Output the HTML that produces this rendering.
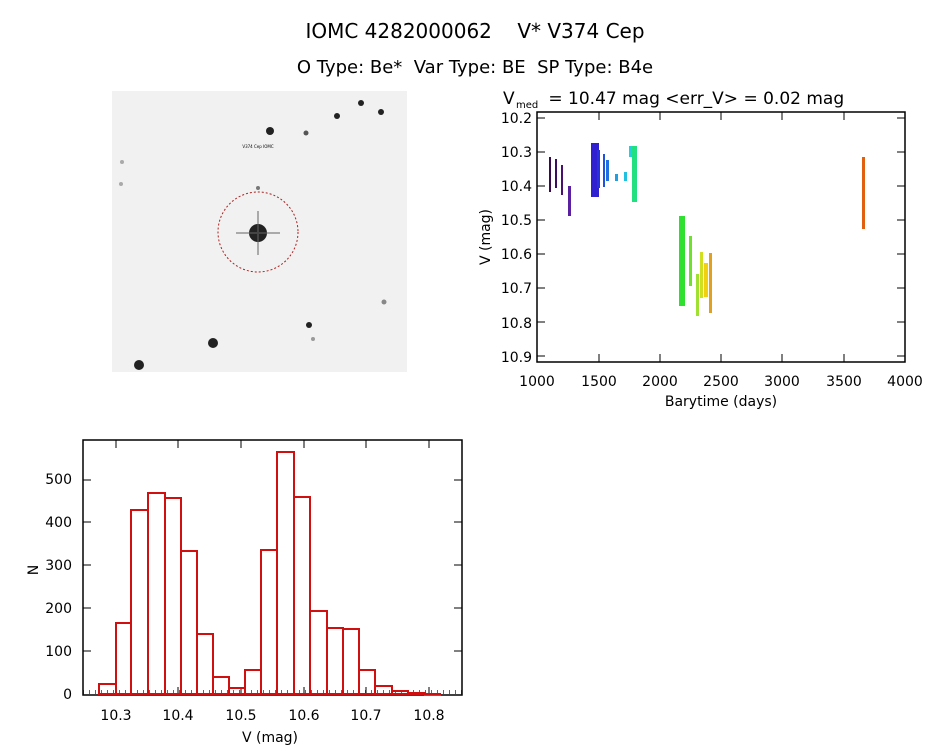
<!DOCTYPE html>
<html><head><style>
body{margin:0;background:#fff;width:944px;height:747px;overflow:hidden;font-family:"DejaVu Sans","Liberation Sans",sans-serif}
svg text{font-family:"DejaVu Sans","Liberation Sans",sans-serif;fill:#000}
</style></head><body>
<svg width="944" height="747" xmlns="http://www.w3.org/2000/svg">
<text x="475" y="38" font-size="20" text-anchor="middle" xml:space="preserve">IOMC 4282000062    V* V374 Cep</text>
<text x="475" y="73" font-size="18" text-anchor="middle" xml:space="preserve">O Type: Be*  Var Type: BE  SP Type: B4e</text>

<rect x="112" y="91" width="295" height="281" fill="#f1f1f1"/>
<g fill="#222">
<circle cx="270" cy="131" r="4"/><circle cx="337" cy="116" r="3"/><circle cx="361" cy="103" r="3"/><circle cx="381" cy="112" r="3"/><circle cx="306" cy="133" r="2.5" fill="#555"/>
<circle cx="258" cy="188" r="2" fill="#777"/><circle cx="309" cy="325" r="3"/><circle cx="213" cy="343" r="5"/><circle cx="139" cy="365" r="5"/>
<circle cx="122" cy="162" r="2" fill="#aaa"/><circle cx="121" cy="184" r="2" fill="#aaa"/><circle cx="384" cy="302" r="2.5" fill="#888"/><circle cx="313" cy="339" r="2" fill="#999"/>
<circle cx="258" cy="233" r="9"/>
</g>
<path d="M236 233H280M258 211V255" stroke="#666" stroke-width="2" opacity="0.5"/>
<circle cx="258" cy="232" r="40" fill="none" stroke="#b02020" stroke-width="1" stroke-dasharray="2,2"/>
<text x="258" y="148" font-size="4" fill="#c00" text-anchor="middle">V374 Cep IOMC</text>

<text x="503" y="104" font-size="17">V</text>
<text x="516" y="108" font-size="10">med</text>
<text x="543" y="104" font-size="17" xml:space="preserve"> = 10.47 mag &lt;err_V&gt; = 0.02 mag</text>
<rect x="537" y="112" width="368" height="250" fill="none" stroke="#000" stroke-width="1.5"/>
<g font-size="14" text-anchor="end">
<text x="532" y="123">10.2</text><text x="532" y="157">10.3</text><text x="532" y="191">10.4</text><text x="532" y="225">10.5</text><text x="532" y="259">10.6</text><text x="532" y="293">10.7</text><text x="532" y="328">10.8</text><text x="532" y="362">10.9</text>
</g>
<g stroke="#000">
<path d="M537 118h8M537 152h8M537 186h8M537 220h8M537 254h8M537 288h8M537 322h8M537 356h8M905 118h-8M905 152h-8M905 186h-8M905 220h-8M905 254h-8M905 288h-8M905 322h-8M905 356h-8"/>
<path d="M599 362v-8M660 362v-8M721 362v-8M782 362v-8M844 362v-8M599 112v8M660 112v8M721 112v8M782 112v8M844 112v8"/>
</g>
<g font-size="14" text-anchor="middle">
<text x="537" y="386">1000</text><text x="599" y="386">1500</text><text x="660" y="386">2000</text><text x="721" y="386">2500</text><text x="782" y="386">3000</text><text x="844" y="386">3500</text><text x="905" y="386">4000</text>
<text x="721" y="406">Barytime (days)</text>
</g>
<text transform="translate(490,237) rotate(-90)" font-size="14" text-anchor="middle">V (mag)</text>
<g>
<rect x="549" y="157" width="2" height="35" fill="#3a0a50"/>
<rect x="555" y="159" width="2" height="29" fill="#3e0c60"/>
<rect x="561" y="165" width="2" height="30" fill="#4a1070"/>
<rect x="568" y="186" width="3" height="30" fill="#5a20a0"/>
<rect x="591" y="143" width="8" height="54" fill="#3020d0"/>
<rect x="597" y="150" width="3" height="38" fill="#2830e0"/>
<rect x="603" y="154" width="2" height="33" fill="#2050e0"/>
<rect x="606" y="160" width="3" height="21" fill="#2070e0"/>
<rect x="615" y="174" width="3" height="7" fill="#20a0e0"/>
<rect x="624" y="172" width="3" height="9" fill="#20c0e0"/>
<rect x="629" y="146" width="3" height="11" fill="#20d0e0"/>
<rect x="632" y="146" width="5" height="56" fill="#20e080"/>
<rect x="679" y="216" width="6" height="90" fill="#30e030"/>
<rect x="689" y="236" width="3" height="50" fill="#70e030"/>
<rect x="696" y="274" width="3" height="42" fill="#a0e030"/>
<rect x="700" y="252" width="3" height="46" fill="#d0e020"/>
<rect x="704" y="263" width="4" height="34" fill="#f0d010"/>
<rect x="709" y="253" width="3" height="60" fill="#e0a020"/>
<rect x="862" y="157" width="3" height="72" fill="#e06010"/>
</g>

<rect x="83" y="440" width="379" height="255" fill="none" stroke="#000" stroke-width="1.5"/>
<g font-size="14" text-anchor="end">
<text x="72" y="699">0</text><text x="72" y="656">100</text><text x="72" y="613">200</text><text x="72" y="570">300</text><text x="72" y="527">400</text><text x="72" y="484">500</text>
</g>
<g stroke="#000">
<path d="M83 651h8M83 608h8M83 565h8M83 522h8M83 480h8M462 651h-8M462 608h-8M462 565h-8M462 522h-8M462 480h-8"/>
<path d="M116 695v-8M178 695v-8M241 695v-8M304 695v-8M366 695v-8M429 695v-8M116 440v8M178 440v8M241 440v8M304 440v8M366 440v8M429 440v8"/>
<path d="M83 695H462" stroke-dasharray="1,5" stroke-width="4" stroke="#000" transform="translate(0,-3)" opacity="0.6"/>
</g>
<g font-size="14" text-anchor="middle">
<text x="116" y="720">10.3</text><text x="178" y="720">10.4</text><text x="241" y="720">10.5</text><text x="304" y="720">10.6</text><text x="366" y="720">10.7</text><text x="429" y="720">10.8</text>
<text x="270" y="742">V (mag)</text>
</g>
<text transform="translate(38,570) rotate(-90)" font-size="14" text-anchor="middle">N</text>
<g fill="none" stroke="#d01010" stroke-width="2">
<rect x="99" y="684" width="17" height="10"/>
<rect x="116" y="623" width="15" height="71"/>
<rect x="131" y="510" width="17" height="184"/>
<rect x="148" y="493" width="17" height="201"/>
<rect x="165" y="498" width="16" height="196"/>
<rect x="181" y="551" width="16" height="143"/>
<rect x="197" y="634" width="16" height="60"/>
<rect x="213" y="677" width="16" height="17"/>
<rect x="229" y="688" width="16" height="6"/>
<rect x="245" y="670" width="16" height="24"/>
<rect x="261" y="550" width="16" height="144"/>
<rect x="277" y="452" width="17" height="242"/>
<rect x="294" y="497" width="16" height="197"/>
<rect x="310" y="611" width="17" height="83"/>
<rect x="327" y="628" width="16" height="66"/>
<rect x="343" y="629" width="16" height="65"/>
<rect x="359" y="670" width="16" height="24"/>
<rect x="375" y="686" width="17" height="8"/>
<rect x="392" y="691" width="16" height="3"/>
<rect x="408" y="693" width="17" height="1"/>
<rect x="425" y="694" width="15" height="0.5"/>
</g>
</svg>
</body></html>
